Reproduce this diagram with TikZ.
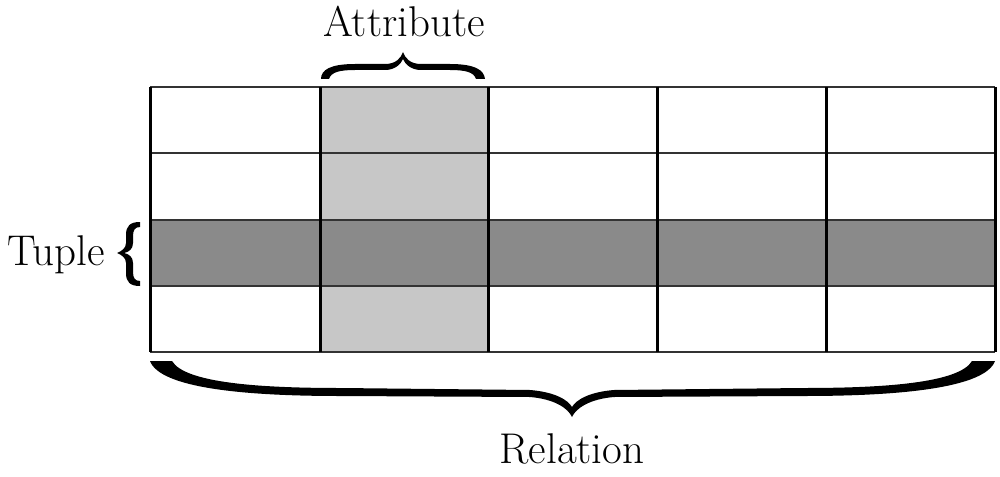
\documentclass[tikz,border=0pt]{standalone}
\begin{document}
\begin{tikzpicture}[x=0.5pt,y=-0.5pt,
  hline/.style={draw=black!80,line width=1pt},
  vline/.style={draw=black,line width=1.5pt},
  bracefill/.style={fill=black,draw=none},
  lbl/.style={font=\fontsize{21.5}{26}\selectfont,anchor=base,inner sep=0pt}]
\useasboundingbox (0,0) rectangle (1000,476);
% fills
\fill[black!22] (320,87) rectangle (488,352);
\fill[black!46] (150,220) rectangle (995,286);
% grid lines
\foreach \y in {87,153,220,286,352} \draw[hline] (150,\y) -- (995,\y);
\foreach \x in {150,320,488,657,826,995} \draw[vline] (\x,87) -- (\x,352);
% labels
\node[lbl] (attr) at (404,37) {Attribute};
\node[lbl] (tuple) at (56,265) {Tuple};
\node[lbl] (rel) at (572,463) {Relation};
% attribute brace
\fill[bracefill] (321,79) -- (329,79) .. controls (331,72) and (340,70) .. (355,70) -- (385,70)
  .. controls (395,70) and (401,64) .. (403,59) .. controls (405,64) and (411,70) .. (421,70)
  -- (450,70) .. controls (465,70) and (474,72) .. (476,79) -- (485,79)
  .. controls (484,70) and (475,64) .. (450,64) -- (421,64)
  .. controls (410,64) and (405,58) .. (403,52) .. controls (401,58) and (396,64) .. (385,64)
  -- (355,64) .. controls (330,64) and (321,70) .. (321,79) -- cycle;
% tuple brace
\fill[bracefill] (140,222) .. controls (130,222) and (126,226) .. (126,235) -- (126,243)
  .. controls (126,248) and (122,251) .. (117,253) .. controls (122,255) and (126,258) .. (126,263)
  -- (126,273) .. controls (126,282) and (130,286) .. (140,286) -- (140,281)
  .. controls (135,281) and (133,278) .. (133,272) -- (133,263)
  .. controls (133,257) and (129,254) .. (124,253) .. controls (129,252) and (133,249) .. (133,243)
  -- (133,236) .. controls (133,230) and (135,227) .. (140,227) -- cycle;
% relation brace
\fill[bracefill] (150,361) -- (172,361) .. controls (185,383) and (260,388) .. (340,388)
  -- (530,390) .. controls (555,392) and (568,400) .. (572,407)
  .. controls (576,400) and (589,392) .. (614,390) -- (804,388)
  .. controls (884,388) and (959,383) .. (972,361) -- (995,361)
  .. controls (985,388) and (900,396) .. (804,396) -- (614,397)
  .. controls (590,399) and (576,408) .. (572,417)
  .. controls (568,408) and (554,399) .. (530,397) -- (340,396)
  .. controls (244,396) and (160,388) .. (150,361) -- cycle;
\end{tikzpicture}
\end{document}
